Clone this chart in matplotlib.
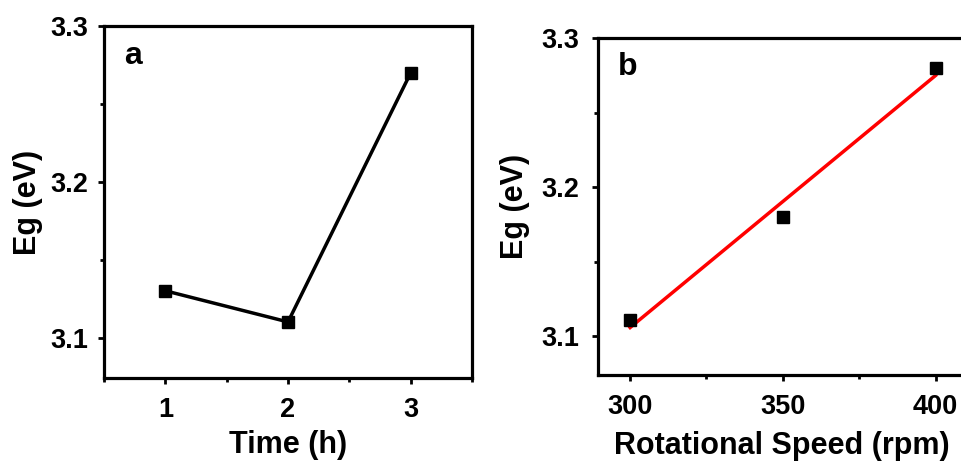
import numpy as np
import matplotlib.pyplot as plt
from matplotlib.ticker import MultipleLocator

# Dados
tempo = [1, 2, 3]
eg_tempo = [3.13, 3.11, 3.27]

rotacao = [300, 350, 400]
eg_rotacao = [3.111, 3.18, 3.28]

plt.rcParams['font.family'] = ['Liberation Sans', 'DejaVu Sans']
plt.rcParams['font.weight'] = 'bold'

fig = plt.figure(figsize=(9.61, 4.63), dpi=100)
ax1 = fig.add_axes([0.1082, 0.1836, 0.3830, 0.7600])
ax2 = fig.add_axes([0.6223, 0.1900, 0.3830, 0.7280])


def estilo(ax, pad_y, pad_lab):
    for s in ax.spines.values():
        s.set_linewidth(2.3)
    ax.tick_params(which='both', direction='out', width=2, labelsize=19.5,
                   top=False, right=False)
    ax.tick_params(which='major', length=4.5)
    ax.tick_params(which='minor', length=3)
    ax.tick_params(axis='y', pad=pad_y)
    ax.tick_params(axis='x', pad=9)
    for lab in ax.get_xticklabels() + ax.get_yticklabels():
        lab.set_fontweight('bold')
    ax.set_ylim(3.074, 3.3)
    ax.yaxis.set_major_locator(MultipleLocator(0.1))
    ax.yaxis.set_minor_locator(MultipleLocator(0.05))
    ax.yaxis.set_major_formatter(plt.FormatStrFormatter('%.1f'))
    ax.set_ylabel('Eg (eV)', fontsize=22, fontweight='bold', labelpad=pad_lab)


# Painel a
ax1.plot(tempo, eg_tempo, color='black', lw=2.5, marker='s', ms=9)
ax1.set_xlim(0.5, 3.5)
ax1.xaxis.set_major_locator(MultipleLocator(1))
ax1.xaxis.set_minor_locator(MultipleLocator(0.5))
estilo(ax1, 7, 5)
ax1.set_xlabel('Time (h)', fontsize=22, fontweight='bold', labelpad=5)
ax1.text(0.055, 0.915, 'a', transform=ax1.transAxes, fontsize=23,
         fontweight='bold', va='center')

# Painel b com ajuste linear
coef = np.polyfit(rotacao, eg_rotacao, 1)
ajuste = np.polyval(coef, rotacao)
ax2.plot(rotacao, ajuste, color='red', lw=2.5)
ax2.plot(rotacao, eg_rotacao, 's', color='black', ms=9)
ax2.set_xlim(289.5, 410)
ax2.xaxis.set_major_locator(MultipleLocator(50))
ax2.xaxis.set_minor_locator(MultipleLocator(25))
estilo(ax2, 9, 8)
ax2.set_xlabel('Rotational Speed (rpm)', fontsize=22, fontweight='bold', labelpad=8)
ax2.text(0.055, 0.915, 'b', transform=ax2.transAxes, fontsize=23,
         fontweight='bold', va='center')

fig.savefig('out.png', dpi=100)
